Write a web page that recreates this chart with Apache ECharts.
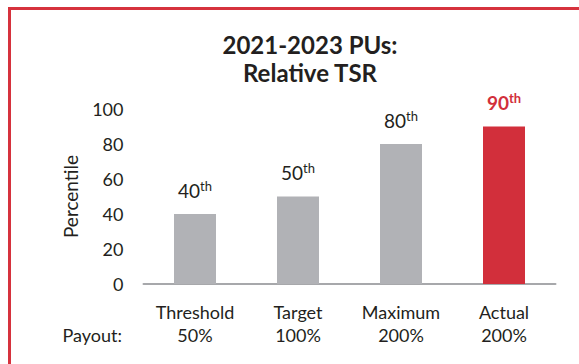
<!DOCTYPE html>
<html>
<head>
<meta charset="utf-8">
<style>
  html, body { margin: 0; padding: 0; background: #ffffff; }
  #chart { width: 579px; height: 364px; }
</style>
<script src="https://cdn.jsdelivr.net/npm/echarts@6/dist/echarts.min.js"></script>
</head>
<body>
<div id="chart"></div>
<script>
// Relative TSR performance levels and payouts
const categories = ['Threshold', 'Target', 'Maximum', 'Actual'];
const payouts = ['50%', '100%', '200%', '200%'];
const percentiles = [40, 50, 80, 90];
const actualIndex = 3;
const yTicks = { min: 0, max: 100, interval: 20 };

const FONT = 'Lato, "Noto Sans", sans-serif';
const INK = '#231f20';
const GREY = '#b1b2b6';
const RED = '#d22f3b';

const chart = echarts.init(document.getElementById('chart'), null, { renderer: 'svg' });

const barData = percentiles.map((v, i) => {
  const hi = i === actualIndex;
  return {
    value: v,
    itemStyle: { color: hi ? RED : GREY },
    label: {
      formatter: hi ? '{nb|{c}}{sb|th}' : '{n|{c}}{s|th}'
    }
  };
});

chart.setOption({
  animation: false,
  textStyle: { fontFamily: FONT },
  title: {
    text: '2021-2023 PUs:\nRelative TSR',
    left: 310,
    top: 30,
    padding: 0,
    textAlign: 'center',
    textStyle: {
      fontFamily: FONT,
      fontSize: 24,
      fontWeight: 'bold',
      color: INK,
      lineHeight: 28
    }
  },
  grid: { left: 143.5, right: 23.5, top: 109, bottom: 80 },
  xAxis: {
    type: 'category',
    data: categories.map((c, i) => c + '\n' + payouts[i]),
    axisLine: { lineStyle: { color: '#a7a8ab', width: 2 } },
    axisTick: { show: false },
    axisLabel: {
      margin: 16,
      fontFamily: FONT,
      fontSize: 18,
      lineHeight: 23,
      color: INK
    }
  },
  yAxis: {
    type: 'value',
    min: yTicks.min,
    max: yTicks.max,
    interval: yTicks.interval,
    name: 'Percentile',
    nameLocation: 'middle',
    nameRotate: 90,
    nameGap: 64,
    nameTextStyle: { fontFamily: FONT, fontSize: 19, color: INK },
    axisLine: { show: false },
    axisTick: { show: false },
    splitLine: { show: false },
    axisLabel: { margin: 20, fontFamily: FONT, fontSize: 18, color: INK }
  },
  series: [{
    type: 'bar',
    barWidth: 42,
    data: barData,
    label: {
      show: true,
      position: 'top',
      distance: 13,
      rich: {
        n: { fontFamily: FONT, fontSize: 19, color: INK, lineHeight: 22 },
        s: { fontFamily: FONT, fontSize: 13, color: INK, lineHeight: 13, verticalAlign: 'top' },
        nb: { fontFamily: FONT, fontSize: 19, fontWeight: 'bold', color: RED, lineHeight: 22 },
        sb: { fontFamily: FONT, fontSize: 13, fontWeight: 'bold', color: RED, lineHeight: 13, verticalAlign: 'top' }
      }
    }
  }],
  graphic: [
    {
      type: 'rect',
      silent: true,
      shape: { x: 9.5, y: 8.5, width: 700, height: 500 },
      style: { fill: 'none', stroke: '#d6323d', lineWidth: 3 }
    },
    {
      type: 'text',
      x: 122,
      y: 335,
      style: {
        text: 'Payout:',
        fontFamily: FONT,
        fontSize: 18,
        fill: INK,
        align: 'right',
        verticalAlign: 'middle'
      }
    }
  ]
});
</script>
</body>
</html>
